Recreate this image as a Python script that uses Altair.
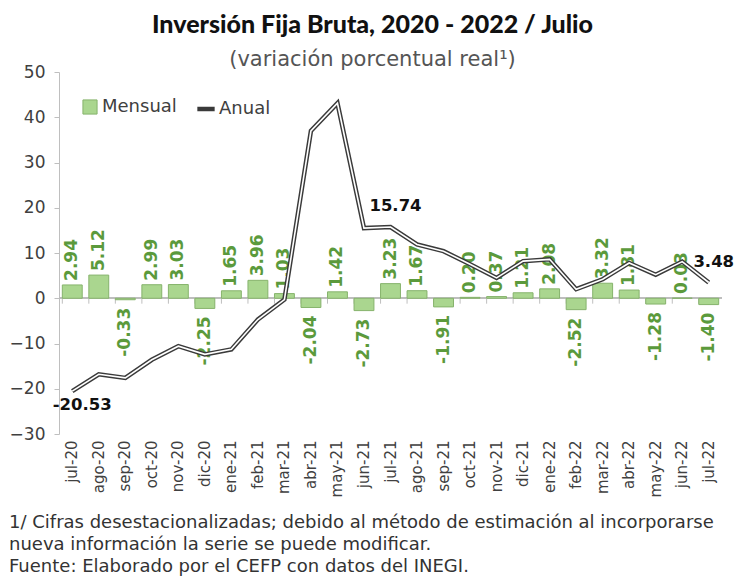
import altair as alt
import pandas as pd

meses = ["jul-20","ago-20","sep-20","oct-20","nov-20","dic-20","ene-21","feb-21","mar-21",
         "abr-21","may-21","jun-21","jul-21","ago-21","sep-21","oct-21","nov-21","dic-21",
         "ene-22","feb-22","mar-22","abr-22","may-22","jun-22","jul-22"]
mensual = [2.94, 5.12, -0.33, 2.99, 3.03, -2.25, 1.65, 3.96, 1.03,
           -2.04, 1.42, -2.73, 3.23, 1.67, -1.91, 0.20, 0.37, 1.21,
           2.08, -2.52, 3.32, 1.81, -1.28, 0.03, -1.40]
anual = [-20.53, -16.8, -17.6, -13.6, -10.6, -12.4, -11.3, -4.7, -0.3,
         37.0, 43.1, 15.5, 15.74, 11.9, 10.4, 7.5, 4.5, 8.2,
         8.6, 2.0, 4.2, 7.8, 5.2, 8.1, 3.48]
anual_etiquetas = {"jul-20": "-20.53", "jul-21": "15.74", "jul-22": "3.48"}

titulo = "Inversión Fija Bruta, 2020 - 2022 / Julio"
subtitulo = "(variación porcentual real¹)"
notas = ["1/ Cifras desestacionalizadas; debido al método de estimación al incorporarse",
         "nueva información la serie se puede modificar.",
         "Fuente: Elaborado por el CEFP con datos del INEGI."]

df = pd.DataFrame({"mes": meses, "mensual": mensual, "anual": anual})
df["serie_m"] = "Mensual"
df["serie_a"] = "Anual"
df["lab_m"] = [f"{v:.2f}" for v in mensual]
df["lab_a"] = [anual_etiquetas.get(m, "") for m in meses]

FONT = "DejaVu Sans"
W, H = 663, 362
GREEN_TXT = "#5b9a3c"
GRAY_AX = "#bfbfbf"

xsc = alt.Scale(domain=meses, paddingInner=0.25, paddingOuter=0.125)
ysc = alt.Scale(domain=[-30, 50], nice=False)

x_main = alt.X("mes:N", sort=meses, scale=xsc,
               axis=alt.Axis(title=None, labelAngle=-90, labelFontSize=15, labelColor="#404040",
                             labelFont=FONT, domain=False, ticks=False, labelPadding=6))
y_main = alt.Y("mensual:Q", scale=ysc,
               axis=alt.Axis(title=None, values=list(range(-30, 51, 10)), labelFontSize=17,
                             labelColor="#404040", labelFont=FONT, grid=False,
                             domainColor=GRAY_AX, tickColor=GRAY_AX, tickSize=5, labelPadding=9))

X = alt.X("mes:N", sort=meses, scale=xsc)
base = alt.Chart(df)

zero_line = base.mark_rule(color=GRAY_AX, strokeWidth=1).encode(y=alt.datum(0))
zero_ticks = base.mark_rule(color=GRAY_AX, strokeWidth=1).encode(
    x=alt.X("mes:N", sort=meses, scale=xsc, bandPosition=0),
    y=alt.datum(0), y2=alt.datum(-1.2))

bars = base.mark_bar(stroke="#86b36c", strokeWidth=1).encode(
    x=x_main, y=y_main, y2=alt.datum(0),
    fill=alt.Fill("serie_m:N", scale=alt.Scale(domain=["Mensual"], range=["#aad68f"]),
                  legend=alt.Legend(title=None, orient="none", legendX=22, legendY=26,
                                    symbolType="square", symbolSize=200, labelFontSize=18,
                                    labelFont=FONT, labelColor="#404040", labelOffset=3,
                                    symbolStrokeColor="#86b36c", symbolStrokeWidth=1)),
)

pos = df[df["mensual"] >= 0]
neg = df[df["mensual"] < 0]
lab_pos = alt.Chart(pos).mark_text(angle=270, align="left", baseline="middle", dx=4,
                                   fontSize=17, fontWeight="bold", font="DejaVu Sans",
                                   color=GREEN_TXT).encode(
    x=X, y=alt.Y("mensual:Q", scale=ysc), text="lab_m:N")
lab_neg = alt.Chart(neg).mark_text(angle=270, align="right", baseline="middle", dx=-8,
                                   fontSize=17, fontWeight="bold", font="DejaVu Sans",
                                   color=GREEN_TXT).encode(
    x=X, y=alt.Y("mensual:Q", scale=ysc), text="lab_m:N")

line_dark = base.mark_line(strokeWidth=4.5).encode(
    x=X, y=alt.Y("anual:Q", scale=ysc),
    stroke=alt.Stroke("serie_a:N", scale=alt.Scale(domain=["Anual"], range=["#3a3a3a"]),
                      legend=alt.Legend(title=None, orient="none", legendX=136, legendY=26,
                                        symbolType="stroke", symbolStrokeWidth=4.5, symbolSize=300,
                                        labelFontSize=18, labelFont=FONT, labelColor="#404040",
                                        labelOffset=2)),
)
line_white = base.mark_line(strokeWidth=1.6, color="white").encode(
    x=X, y=alt.Y("anual:Q", scale=ysc))

first_df = df[df["mes"] == "jul-20"]
other_df = df[(df["lab_a"] != "") & (df["mes"] != "jul-20")]
anual_lab1 = alt.Chart(first_df).mark_text(fontSize=16.5, fontWeight="bold", font="DejaVu Sans",
                                           color="#111111", dx=10, dy=14).encode(
    x=X, y=alt.Y("anual:Q", scale=ysc), text="lab_a:N")
anual_lab2 = alt.Chart(other_df).mark_text(fontSize=16.5, fontWeight="bold", font="DejaVu Sans",
                                           color="#111111", dx=5, dy=-21).encode(
    x=X, y=alt.Y("anual:Q", scale=ysc), text="lab_a:N")

foot = alt.Chart(pd.DataFrame({"t": ["\n".join(notas)]})).mark_text(
    align="left", baseline="top", lineBreak="\n", lineHeight=22, fontSize=18, font="DejaVu Sans",
    color="#333333").encode(x=alt.value(-50), y=alt.value(442), text="t:N")

chart = alt.layer(zero_line, zero_ticks, bars, lab_pos, lab_neg, line_dark, line_white,
                  anual_lab1, anual_lab2, foot).resolve_legend(
    fill="independent", stroke="independent").properties(
    width=W, height=H,
    autosize=alt.AutoSizeParams(type="none"),
    padding={"left": 51, "top": 64, "right": 13, "bottom": 145},
    title=alt.TitleParams(titulo, subtitle=subtitulo, anchor="middle", dx=-18, fontSize=25,
                          font="Lato", fontWeight=900, color="#111111", subtitleFontSize=21,
                          subtitleFont="DejaVu Sans", subtitleColor="#555555", subtitlePadding=11,
                          offset=-7),
).configure_view(stroke=None)

chart.save("out.html", embed_options={"renderer": "svg", "actions": False})
